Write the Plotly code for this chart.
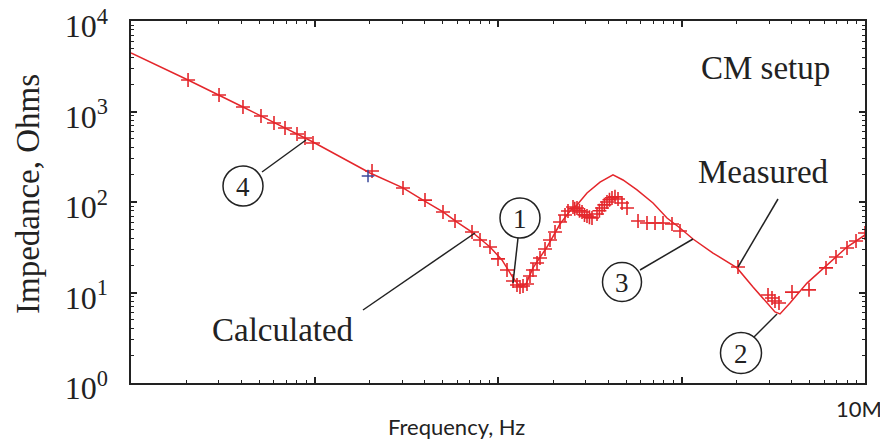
import plotly.graph_objects as go

# ---------------- data ----------------
meas_freq = [1000, 2046, 4076, 8030, 9813, 20070, 30360, 39020, 50150, 59780, 72170,
             90450, 105100, 119200, 126900, 133500, 142100, 155100, 184900, 217800,
             246900, 269500, 305500, 359700, 423300, 479900, 572200, 699300, 833700,
             981300, 1155000, 1485000, 2007000, 2453000, 2924000, 3232000, 3442000,
             3902000, 4830000, 6205000, 7980000, 10000000]
meas_z = [4430, 2229, 1121, 564, 460, 209, 143, 105, 77.6, 60.1, 46.6,
          31.8, 22.9, 15.2, 12.7, 11.5, 12.4, 18.7, 31.8, 57.1,
          79.6, 92.7, 126, 166, 199, 175, 136, 97.5, 66.6,
          51.6, 39.0, 27.3, 18.7, 11.5, 7.65, 6.09, 5.79,
          7.65, 12.7, 20.1, 31.8, 43.2]

calc_freq = [2046, 3018, 4076, 5110, 6016, 6907, 8030, 8876, 9813, 20580, 30360,
             40010, 50150, 58310, 72170, 79800, 90450, 100000, 111950, 120700,
             126900, 131800, 136900, 143900, 149400, 155100, 163200, 169400,
             180400, 192000, 204500, 217800, 231800, 240700, 256300, 262000, 269500,
             278000, 287000, 296000, 305500, 315000, 325300, 346400, 357000, 368800,
             380000, 392600, 405000, 418000, 434000, 450900, 474000, 504700, 579500,
             648600, 717300, 793000, 887600, 981300, 2032000, 2961000, 3113000,
             3232000, 3399000, 4001000, 4953000, 6131000, 6950000, 7980000,
             8934000, 10000000]
calc_z = [2229, 1521, 1121, 892, 746, 657, 564, 510, 449, 220, 143,
          105, 77.6, 61.7, 46.6, 38.0, 31.8, 23.5, 17.7, 13.4,
          12.1, 11.5, 11.8, 12.4, 15.2, 17.7, 21.2, 24.1,
          30.3, 38.0, 46.6, 60.1, 71.8, 79.6, 88.1, 84.0, 85.8,
          80.0, 77.6, 72.0, 70.0, 68.0, 66.6, 73.7, 80.0, 85.8,
          93.0, 100, 106, 111, 114, 108, 97.5, 85.8, 61.7,
          58.6, 58.6, 58.6, 57.1, 47.8, 19.1, 9.38, 8.70,
          8.06, 7.65, 10.1, 10.7, 18.7, 24.7, 31.0,
          37.1, 45.4]

blue_freq = [19570]
blue_z = [194]

y_tickvals = [1, 10, 100, 1000, 10000]
y_ticktext = ["10<sup>0</sup>", "10<sup>1</sup>", "10<sup>2</sup>", "10<sup>3</sup>", "10<sup>4</sup>"]
x_tickvals = [1e3, 1e4, 1e5, 1e6, 1e7]
x_last_label = "10M"

RED = "#e4262b"
INK = "#222222"
SERIF = "Liberation Serif"
SANS = "Lato"

fig = go.Figure()
fig.add_trace(go.Scatter(x=meas_freq, y=meas_z, mode="lines", name="Measured",
                         line=dict(color=RED, width=1.5)))
fig.add_trace(go.Scatter(x=calc_freq, y=calc_z, mode="markers", name="Calculated",
                         marker=dict(symbol="cross-thin", size=10,
                                     line=dict(color=RED, width=1.6))))
fig.add_trace(go.Scatter(x=blue_freq, y=blue_z, mode="markers", name="other",
                         marker=dict(symbol="cross-thin", size=9,
                                     line=dict(color="#3b4a9c", width=1.5))))

def minor_vals(lo, hi):
    return [k * 10 ** d for d in range(lo, hi) for k in range(2, 10)]

axis_common = dict(showline=True, linecolor=INK, linewidth=1.5, mirror="allticks",
                   ticks="inside", ticklen=6, tickwidth=1.5, tickcolor=INK,
                   showgrid=False, zeroline=False, automargin=False)

fig.update_xaxes(type="log", range=[3, 7], tickmode="array", tickvals=x_tickvals,
                 showticklabels=False,
                 minor=dict(ticks="inside", ticklen=3, tickwidth=1.2, tickcolor=INK,
                            tickmode="array", tickvals=minor_vals(3, 7), showgrid=False),
                 **axis_common)
fig.update_yaxes(type="log", range=[0, 4], tickmode="array", tickvals=y_tickvals,
                 ticktext=y_ticktext, tickfont=dict(family=SERIF, size=32, color=INK),
                 ticklabelstandoff=15, ticklabelshift=5, ticklabeloverflow="allow",
                 minor=dict(ticks="inside", ticklen=3, tickwidth=1.2, tickcolor=INK,
                            tickmode="array", tickvals=minor_vals(0, 4), showgrid=False),
                 **axis_common)

# the page body has an 8px default margin; lay out so the photo matches
OFF = 8
W, H = 888 - OFF, 443 - OFF
L, T = 131 - OFF, 21 - OFF
R = W - (865 - OFF)
B = H - (383 - OFF)
pw, ph = W - L - R, H - T - B

def px(x):
    return (x - OFF - L) / pw

def py(y):
    return (H - B - (y - OFF)) / ph

shapes = []
annotations = []

def text(x, y, s, size=33, family=SERIF, angle=0, xanchor="center"):
    annotations.append(dict(x=px(x), y=py(y), xref="paper", yref="paper", text=s,
                            showarrow=False, xanchor=xanchor, yanchor="middle",
                            textangle=angle, font=dict(family=family, size=size, color=INK)))

def line(x0, y0, x1, y1):
    shapes.append(dict(type="line", xref="paper", yref="paper", x0=px(x0), y0=py(y0),
                       x1=px(x1), y1=py(y1), line=dict(color=INK, width=1.5)))

def circled(x, y, r, s):
    shapes.append(dict(type="circle", xref="paper", yref="paper", xsizemode="pixel",
                       ysizemode="pixel", xanchor=px(x), yanchor=py(y),
                       x0=-r, x1=r, y0=-r, y1=r, line=dict(color=INK, width=1.5)))
    text(x, y + 1, s, size=27)

text(765, 68, "CM setup")
text(763, 172, "Measured")
text(283, 330, "Calculated")
text(28, 194, "Impedance, Ohms", size=33, angle=-90)
text(456, 426, "Frequency, Hz", size=22, family=SANS)
text(884, 408, x_last_label, size=22, family=SANS, xanchor="right")

circled(243, 186, 20, "4")
circled(520, 218, 20, "1")
circled(622, 282, 19.5, "3")
circled(741, 353, 20.5, "2")

line(262, 172, 306, 140)
line(518, 238, 513, 283)
line(640, 270, 693, 239)
line(754, 337, 777, 314)
line(778, 199, 738, 267)
line(363, 310, 475, 233)

fig.update_layout(width=W, height=H, margin=dict(l=L, r=R, t=T, b=B, autoexpand=False),
                  paper_bgcolor="white", plot_bgcolor="white", showlegend=False,
                  shapes=shapes, annotations=annotations)

fig.write_html("out.html")
